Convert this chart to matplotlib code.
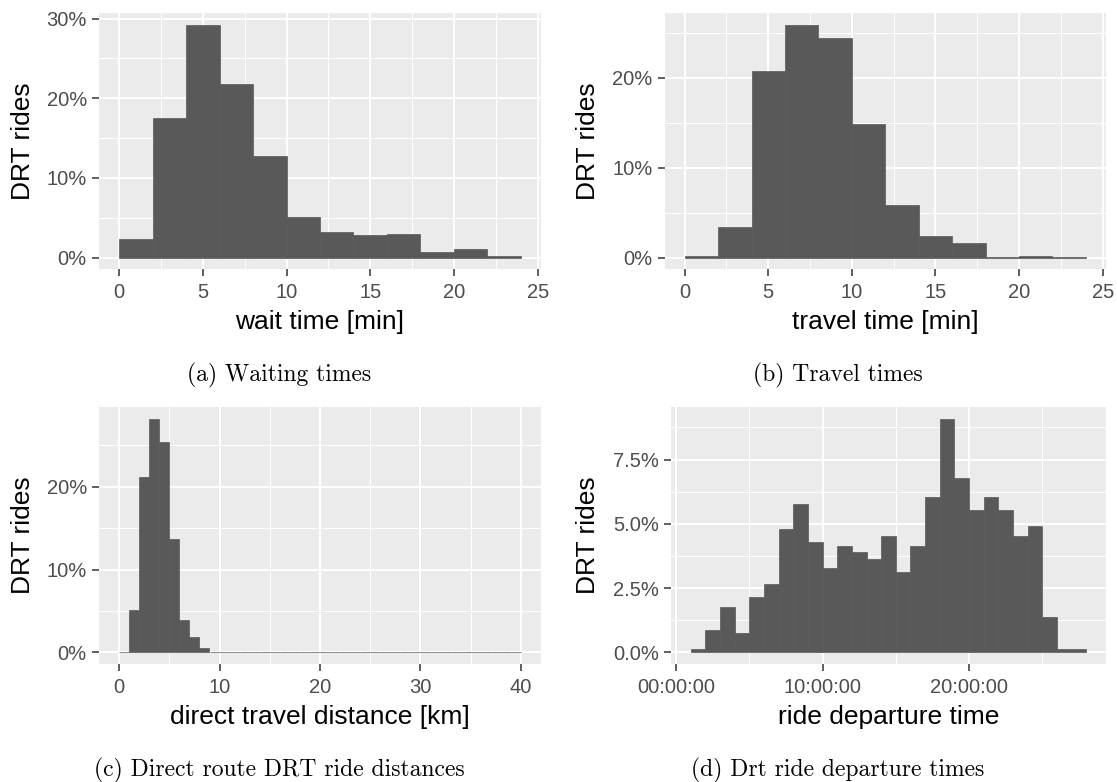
import numpy as np
import matplotlib
matplotlib.use('Agg')
import matplotlib.pyplot as plt
from matplotlib.ticker import FuncFormatter, MultipleLocator

plt.rcParams['font.family'] = ['Liberation Sans', 'DejaVu Sans']

## Histogram data (share of DRT rides in %, per bin)
wait_bin_width = 2
wait_share = [2.34, 17.5, 29.2, 21.8, 12.7, 5.1, 3.2, 2.85, 2.97, 0.71, 1.09, 0.17]

travel_bin_width = 2
travel_share = [0.19, 3.42, 20.8, 25.9, 24.5, 14.9, 5.87, 2.42, 1.64, 0.07, 0.15, 0.07]

dist_bin_width = 1
dist_share = [0, 5.12, 21.2, 28.2, 25.4, 13.7, 3.9, 1.85, 0.56] + [0]*31

dep_first_hour = 1
dep_bin_width = 1
dep_share = [0.14, 0.88, 1.76, 0.75, 2.15, 2.67, 4.80, 5.77, 4.29, 3.28,
             4.14, 3.89, 3.63, 4.53, 3.13, 4.14, 6.04, 9.08, 6.78, 5.54,
             6.04, 5.54, 4.54, 4.92, 1.37, 0.14, 0.14]

x_titles = ['wait time [min]', 'travel time [min]',
            'direct travel distance [km]', 'ride departure time']
captions = ['(a) Waiting times', '(b) Travel times',
            '(c) Direct route DRT ride distances', '(d) Drt ride departure times']

W, H = 1117, 782
BAR = '#595959'
PANEL = '#EBEBEB'

fig = plt.figure(figsize=(W/100, H/100), dpi=100)

def px_axes(left, top, right, bottom):
    return fig.add_axes([left/W, 1 - bottom/H, (right-left)/W, (bottom-top)/H])

def style(ax, share, start, width, xmajor, xminor, ymajor, yfmt, xlabel, left_px, right_px):
    share = np.asarray(share, dtype=float)
    edges = start + width*np.arange(len(share) + 1)
    ax.bar(edges[:-1], share, width=width, align='edge', color=BAR,
           edgecolor=BAR, linewidth=0.5, zorder=3)
    span = edges[-1] - edges[0]
    ax.set_xlim(edges[0] - 0.05*span, edges[-1] + 0.05*span)
    ax.set_ylim(-0.05*share.max(), 1.05*share.max())
    ax.set_facecolor(PANEL)
    for s in ax.spines.values():
        s.set_visible(False)
    ax.xaxis.set_major_locator(MultipleLocator(xmajor))
    ax.xaxis.set_minor_locator(MultipleLocator(xminor))
    ax.yaxis.set_major_locator(MultipleLocator(ymajor))
    ax.yaxis.set_minor_locator(MultipleLocator(ymajor/2))
    ax.yaxis.set_major_formatter(FuncFormatter(yfmt))
    ax.grid(which='major', color='white', lw=1.4, zorder=1)
    ax.grid(which='minor', color='white', lw=0.7, zorder=1)
    ax.set_axisbelow(True)
    ax.tick_params(which='major', length=4.8, width=1.1, color='#333333',
                   labelcolor='#4D4D4D', labelsize=14.5, pad=4)
    ax.tick_params(axis='x', which='major', pad=5)
    ax.tick_params(which='minor', length=0)
    ax.set_xlabel(xlabel, fontsize=19, color='black', labelpad=6)
    ax.set_ylabel('DRT rides', fontsize=19, color='black')
    ax.yaxis.set_label_coords(-(left_px - 35)/(right_px - left_px), 0.5)

pct0 = lambda v, p: '%d%%' % round(v)
pct1 = lambda v, p: '%.1f%%' % v
hms = lambda v, p: '%02d:00:00' % round(v)

ax_a = px_axes(99, 13.3, 541, 269.3)
style(ax_a, wait_share, 0, wait_bin_width, 5, 2.5, 10, pct0, x_titles[0], 99, 541)

ax_b = px_axes(664.6, 13.3, 1106, 269.3)
style(ax_b, travel_share, 0, travel_bin_width, 5, 2.5, 10, pct0, x_titles[1], 664.6 - 565, 1106 - 565)

ax_c = px_axes(99, 407.3, 541, 664)
style(ax_c, dist_share, 0, dist_bin_width, 10, 5, 10, pct0, x_titles[2], 99, 541)

ax_d = px_axes(671, 407.3, 1106, 664)
style(ax_d, dep_share, dep_first_hour, dep_bin_width, 10, 5, 2.5, pct1, x_titles[3], 671 - 565, 1106 - 565)
ax_d.xaxis.set_major_formatter(FuncFormatter(hms))

## Sub-figure captions
cap_font = dict(family=['cmr10', 'DejaVu Serif'], fontsize=17, ha='center', va='baseline')
fig.text(279/W, 1 - 381/H, captions[0], **cap_font)
fig.text(838/W, 1 - 381/H, captions[1], **cap_font)
fig.text(279/W, 1 - 776/H, captions[2], **cap_font)
fig.text(838/W, 1 - 776/H, captions[3], **cap_font)

fig.savefig('out.png', dpi=100, facecolor='white')
